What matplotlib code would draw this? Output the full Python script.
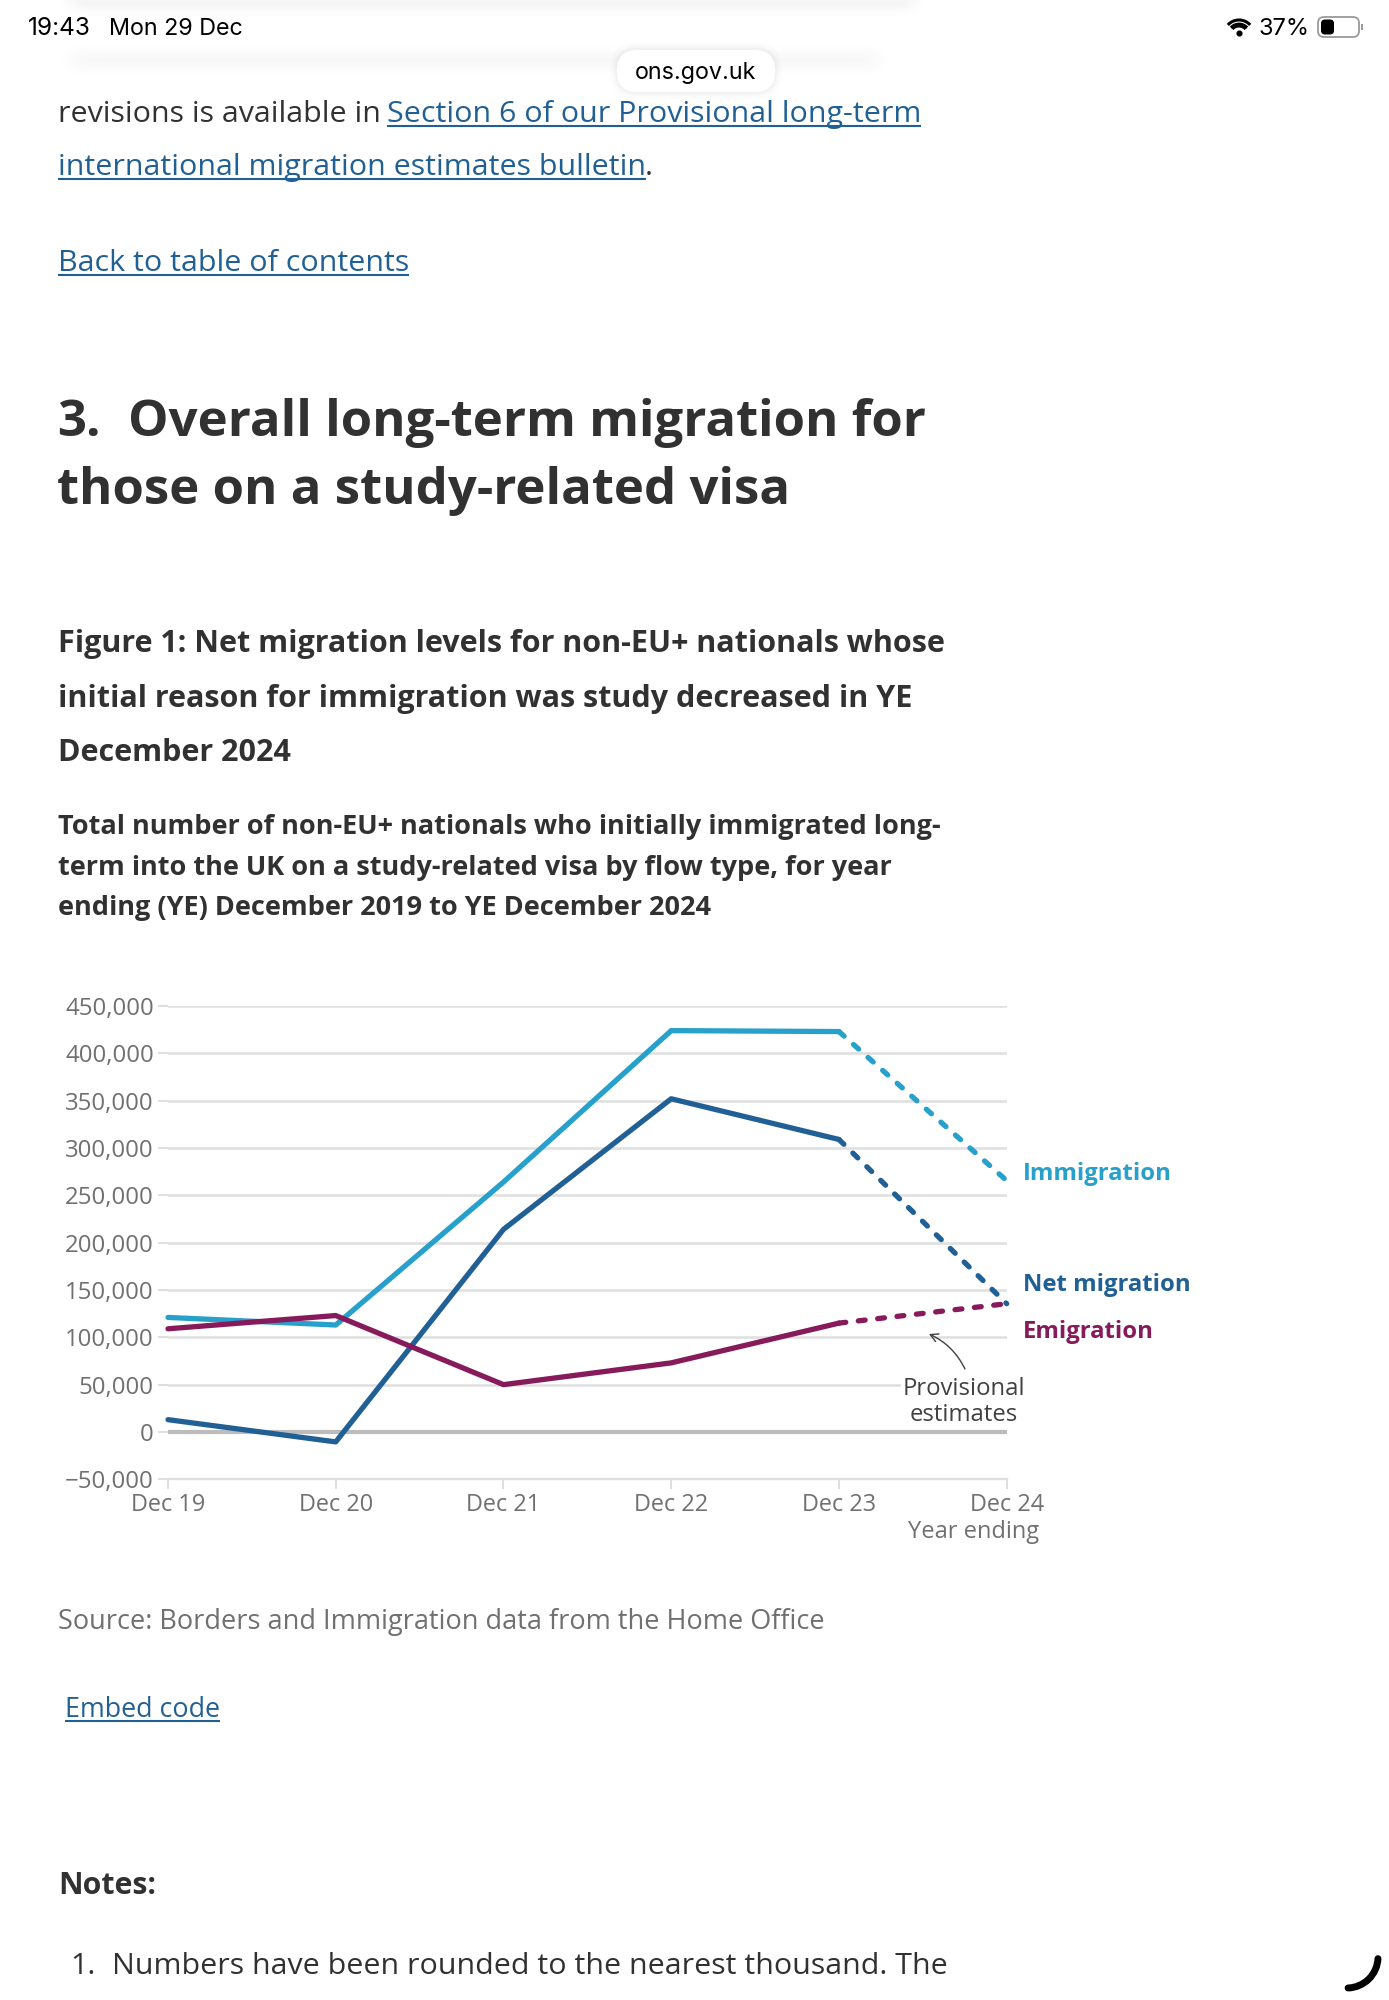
#!/usr/bin/env python3
"""Recreate the ONS study-visa migration chart inside its iPad page screenshot."""

import matplotlib

matplotlib.use("Agg")
import matplotlib.pyplot as plt
import numpy as np
from matplotlib.patches import Arc, FancyBboxPatch, Rectangle

plt.rcParams["font.family"] = ["Open Sans", "DejaVu Sans"]

WIDTH, HEIGHT = 1389, 2000

years = ["Dec 19", "Dec 20", "Dec 21", "Dec 22", "Dec 23", "Dec 24"]
immigration = [121000, 113000, 264000, 424000, 423000, 265500]
net_migration = [13000, -10500, 214000, 352000, 309000, 135500]
emigration = [109000, 123000, 50000, 73000, 115000, 135500]
y_ticks = [-50000, 0, 50000, 100000, 150000, 200000, 250000, 300000, 350000, 400000, 450000]

LIGHT_BLUE = "#27a0cc"
DARK_BLUE = "#206095"
PLUM = "#871a5b"
GRID = "#dfdfe0"
TICK_TEXT = "#707071"
INK = "#323132"


def axes_rect(left, top, right, bottom):
    return [left / WIDTH, 1 - bottom / HEIGHT, (right - left) / WIDTH, (bottom - top) / HEIGHT]


def draw_chart(fig):
    ax = fig.add_axes(axes_rect(168, 1006, 1006.7, 1479.3))
    xs = list(range(len(years)))
    ax.set_xlim(0, 5)
    ax.set_ylim(-50000, 450000)

    for spine in ("top", "left", "right"):
        ax.spines[spine].set_visible(False)
    ax.spines["bottom"].set_color(GRID)
    ax.spines["bottom"].set_linewidth(1.7)

    ax.set_xticks(xs, years, fontsize=16.9, color=TICK_TEXT)
    ax.set_yticks(y_ticks, [f"{v:,}".replace("-", "\u2212") for v in y_ticks],
                  fontsize=17.3, color=TICK_TEXT)
    ax.tick_params(axis="x", length=7, width=1.4, color=GRID, pad=3)
    ax.tick_params(axis="y", length=7.2, width=1.4, color=GRID, pad=3)
    ax.grid(axis="y", color=GRID, linewidth=1.8, zorder=1)
    ax.axhline(0, color="#bcbcbc", linewidth=3.0, zorder=2)

    for values, colour in ((immigration, LIGHT_BLUE), (net_migration, DARK_BLUE), (emigration, PLUM)):
        ax.plot(xs[:5], values[:5], color=colour, linewidth=3.8, zorder=3,
                solid_capstyle="round", solid_joinstyle="round", clip_on=False)
        ax.plot(xs[4:], values[4:], color=colour, linewidth=3.8, zorder=3,
                linestyle=(0, (1.3, 2.39)), dash_capstyle="round", clip_on=False)


def link(page, x, y, s, size=21.9):
    t = page.text(x, y, s, fontsize=size, color=DARK_BLUE, va="baseline")
    box = t.get_window_extent(page.figure.canvas.get_renderer())
    page.plot([x, x + box.width], [y + 4, y + 4], color=DARK_BLUE, linewidth=1.5, solid_capstyle="butt")


def soft_band(page, left, right, top, bottom, strength):
    """Very faint blurred strip, standing in for text seen through the status bar."""
    x = np.linspace(left - 30, right + 30, 400)
    y = np.linspace(top - 24, bottom + 24, 60)
    fade_x = (np.tanh((x - left) / 10) + 1) * (np.tanh((right - x) / 10) + 1) / 4
    fade_y = (np.tanh((y - top) / 7) + 1) * (np.tanh((bottom - y) / 7) + 1) / 4
    rgba = np.zeros((y.size, x.size, 4))
    rgba[..., 3] = strength * np.outer(fade_y, fade_x)
    page.imshow(rgba, extent=(x[0], x[-1], y[-1], y[0]), aspect="auto", zorder=2, interpolation="bilinear")


def draw_page(fig):
    page = fig.add_axes([0, 0, 1, 1], facecolor="none")

    # text running under the translucent status bar
    page.text(58, 122, "revisions is available in", fontsize=21.9, color=INK)
    link(page, 387, 122, "Section 6 of our Provisional long-term")
    page.add_patch(Rectangle((0, 0), WIDTH, 103, facecolor="white", edgecolor="none"))

    soft_band(page, 70, 915, -6, 8, 0.055)
    soft_band(page, 70, 880, 52, 68, 0.035)

    page.set_xlim(0, WIDTH)
    page.set_ylim(HEIGHT, 0)
    page.axis("off")

    link(page, 58, 175, "international migration estimates bulletin")
    page.text(645, 175, ".", fontsize=21.9, color=INK)
    link(page, 58, 271, "Back to table of contents")

    page.text(57, 436, "3.", fontsize=36.6, fontweight="bold", color=INK)
    page.text(128, 436, "Overall long-term migration for", fontsize=36.6, fontweight="bold", color=INK)
    page.text(57, 504, "those on a study-related visa", fontsize=36.6, fontweight="bold", color=INK)

    for y, line in ((652, "Figure 1: Net migration levels for non-EU+ nationals whose"),
                    (707, "initial reason for immigration was study decreased in YE"),
                    (761, "December 2024")):
        page.text(58, y, line, fontsize=22.0, fontweight="bold", color=INK)

    for y, line in ((834, "Total number of non-EU+ nationals who initially immigrated long-"),
                    (875, "term into the UK on a study-related visa by flow type, for year"),
                    (915, "ending (YE) December 2019 to YE December 2024")):
        page.text(58, y, line, fontsize=19.5, fontweight="bold", color=INK)

    # direct labels and annotation
    page.text(1023, 1180, "Immigration", fontsize=17.2, fontweight="bold", color=LIGHT_BLUE)
    page.text(1023, 1291, "Net migration", fontsize=17.2, fontweight="bold", color=DARK_BLUE)
    page.text(1023, 1338, "Emigration", fontsize=17.2, fontweight="bold", color=PLUM)
    page.text(964, 1395, "Provisional", fontsize=17.2, color="#414042", ha="center",
              bbox=dict(facecolor="white", edgecolor="none", pad=1.0))
    page.text(964, 1421, "estimates", fontsize=17.2, color="#414042", ha="center")
    page.annotate("", xy=(929, 1334), xytext=(965, 1369),
                  arrowprops=dict(arrowstyle="->,head_length=0.55,head_width=0.3", color="#414042",
                                  linewidth=1.0, shrinkA=0, shrinkB=0,
                                  connectionstyle="arc3,rad=0.18"))
    page.text(1039, 1538, "Year ending", fontsize=17, color=TICK_TEXT, ha="right")

    page.text(58, 1629, "Source: Borders and Immigration data from the Home Office", fontsize=19.5, color=TICK_TEXT)
    link(page, 65, 1717, "Embed code", size=19.4)
    page.text(58, 1894, "Notes:", fontsize=21.8, fontweight="bold", color=INK)
    page.text(70, 1974, "1.", fontsize=21.9, color=INK)
    page.text(112, 1974, "Numbers have been rounded to the nearest thousand. The", fontsize=21.9, color=INK)

    # iOS status bar
    page.text(28, 35, "19:43", fontsize=17.6, family="Inter", color="black")
    page.text(109, 35, "Mon 29 Dec", fontsize=16.8, family="Inter", color="black")
    page.text(1259, 35, "37%", fontsize=17, family="Inter", color="black")
    for radius, lw in ((9, 2.2), (15, 2.2)):
        page.add_patch(Arc((1239, 35), 2 * radius, 2 * radius, theta1=222, theta2=318, color="black", linewidth=lw))
    page.add_patch(Arc((1239, 35), 22, 22, theta1=222, theta2=318, color="black", linewidth=2.0))
    page.plot([1239], [32.5], "o", color="black", markersize=3.4)
    page.add_patch(FancyBboxPatch((1318, 17), 41, 20, boxstyle="round,pad=0,rounding_size=6",
                                  facecolor="white", edgecolor="#9a9a9a", linewidth=1.3))
    page.add_patch(FancyBboxPatch((1321, 19.5), 13, 15, boxstyle="round,pad=0,rounding_size=4",
                                  facecolor="black", edgecolor="none"))
    page.add_patch(Rectangle((1360.5, 24), 2, 6, facecolor="#9a9a9a", edgecolor="none"))

    # address pill
    for grow, alpha in ((7, 0.012), (4, 0.016), (2, 0.02)):
        page.add_patch(FancyBboxPatch((617 - grow, 50 - grow), 158 + 2 * grow, 42 + 2 * grow,
                                      boxstyle=f"round,pad=0,rounding_size={20 + grow}",
                                      facecolor="black", edgecolor="none", alpha=alpha, zorder=2.5))
    page.add_patch(FancyBboxPatch((617, 50), 158, 42, boxstyle="round,pad=0,rounding_size=20",
                                  facecolor="white", edgecolor="none", zorder=2.6))
    page.text(696, 79, "ons.gov.uk", fontsize=16.8, family="Inter", color="black", ha="center")

    # loading spinner in the bottom corner
    page.add_patch(Arc((1347, 1957), 62, 62, theta1=3, theta2=88, color="black", linewidth=5, capstyle="round"))


def main():
    fig = plt.figure(figsize=(WIDTH / 100, HEIGHT / 100), dpi=100, facecolor="white")
    draw_chart(fig)
    draw_page(fig)
    fig.savefig("out.png", dpi=100)


if __name__ == "__main__":
    main()
